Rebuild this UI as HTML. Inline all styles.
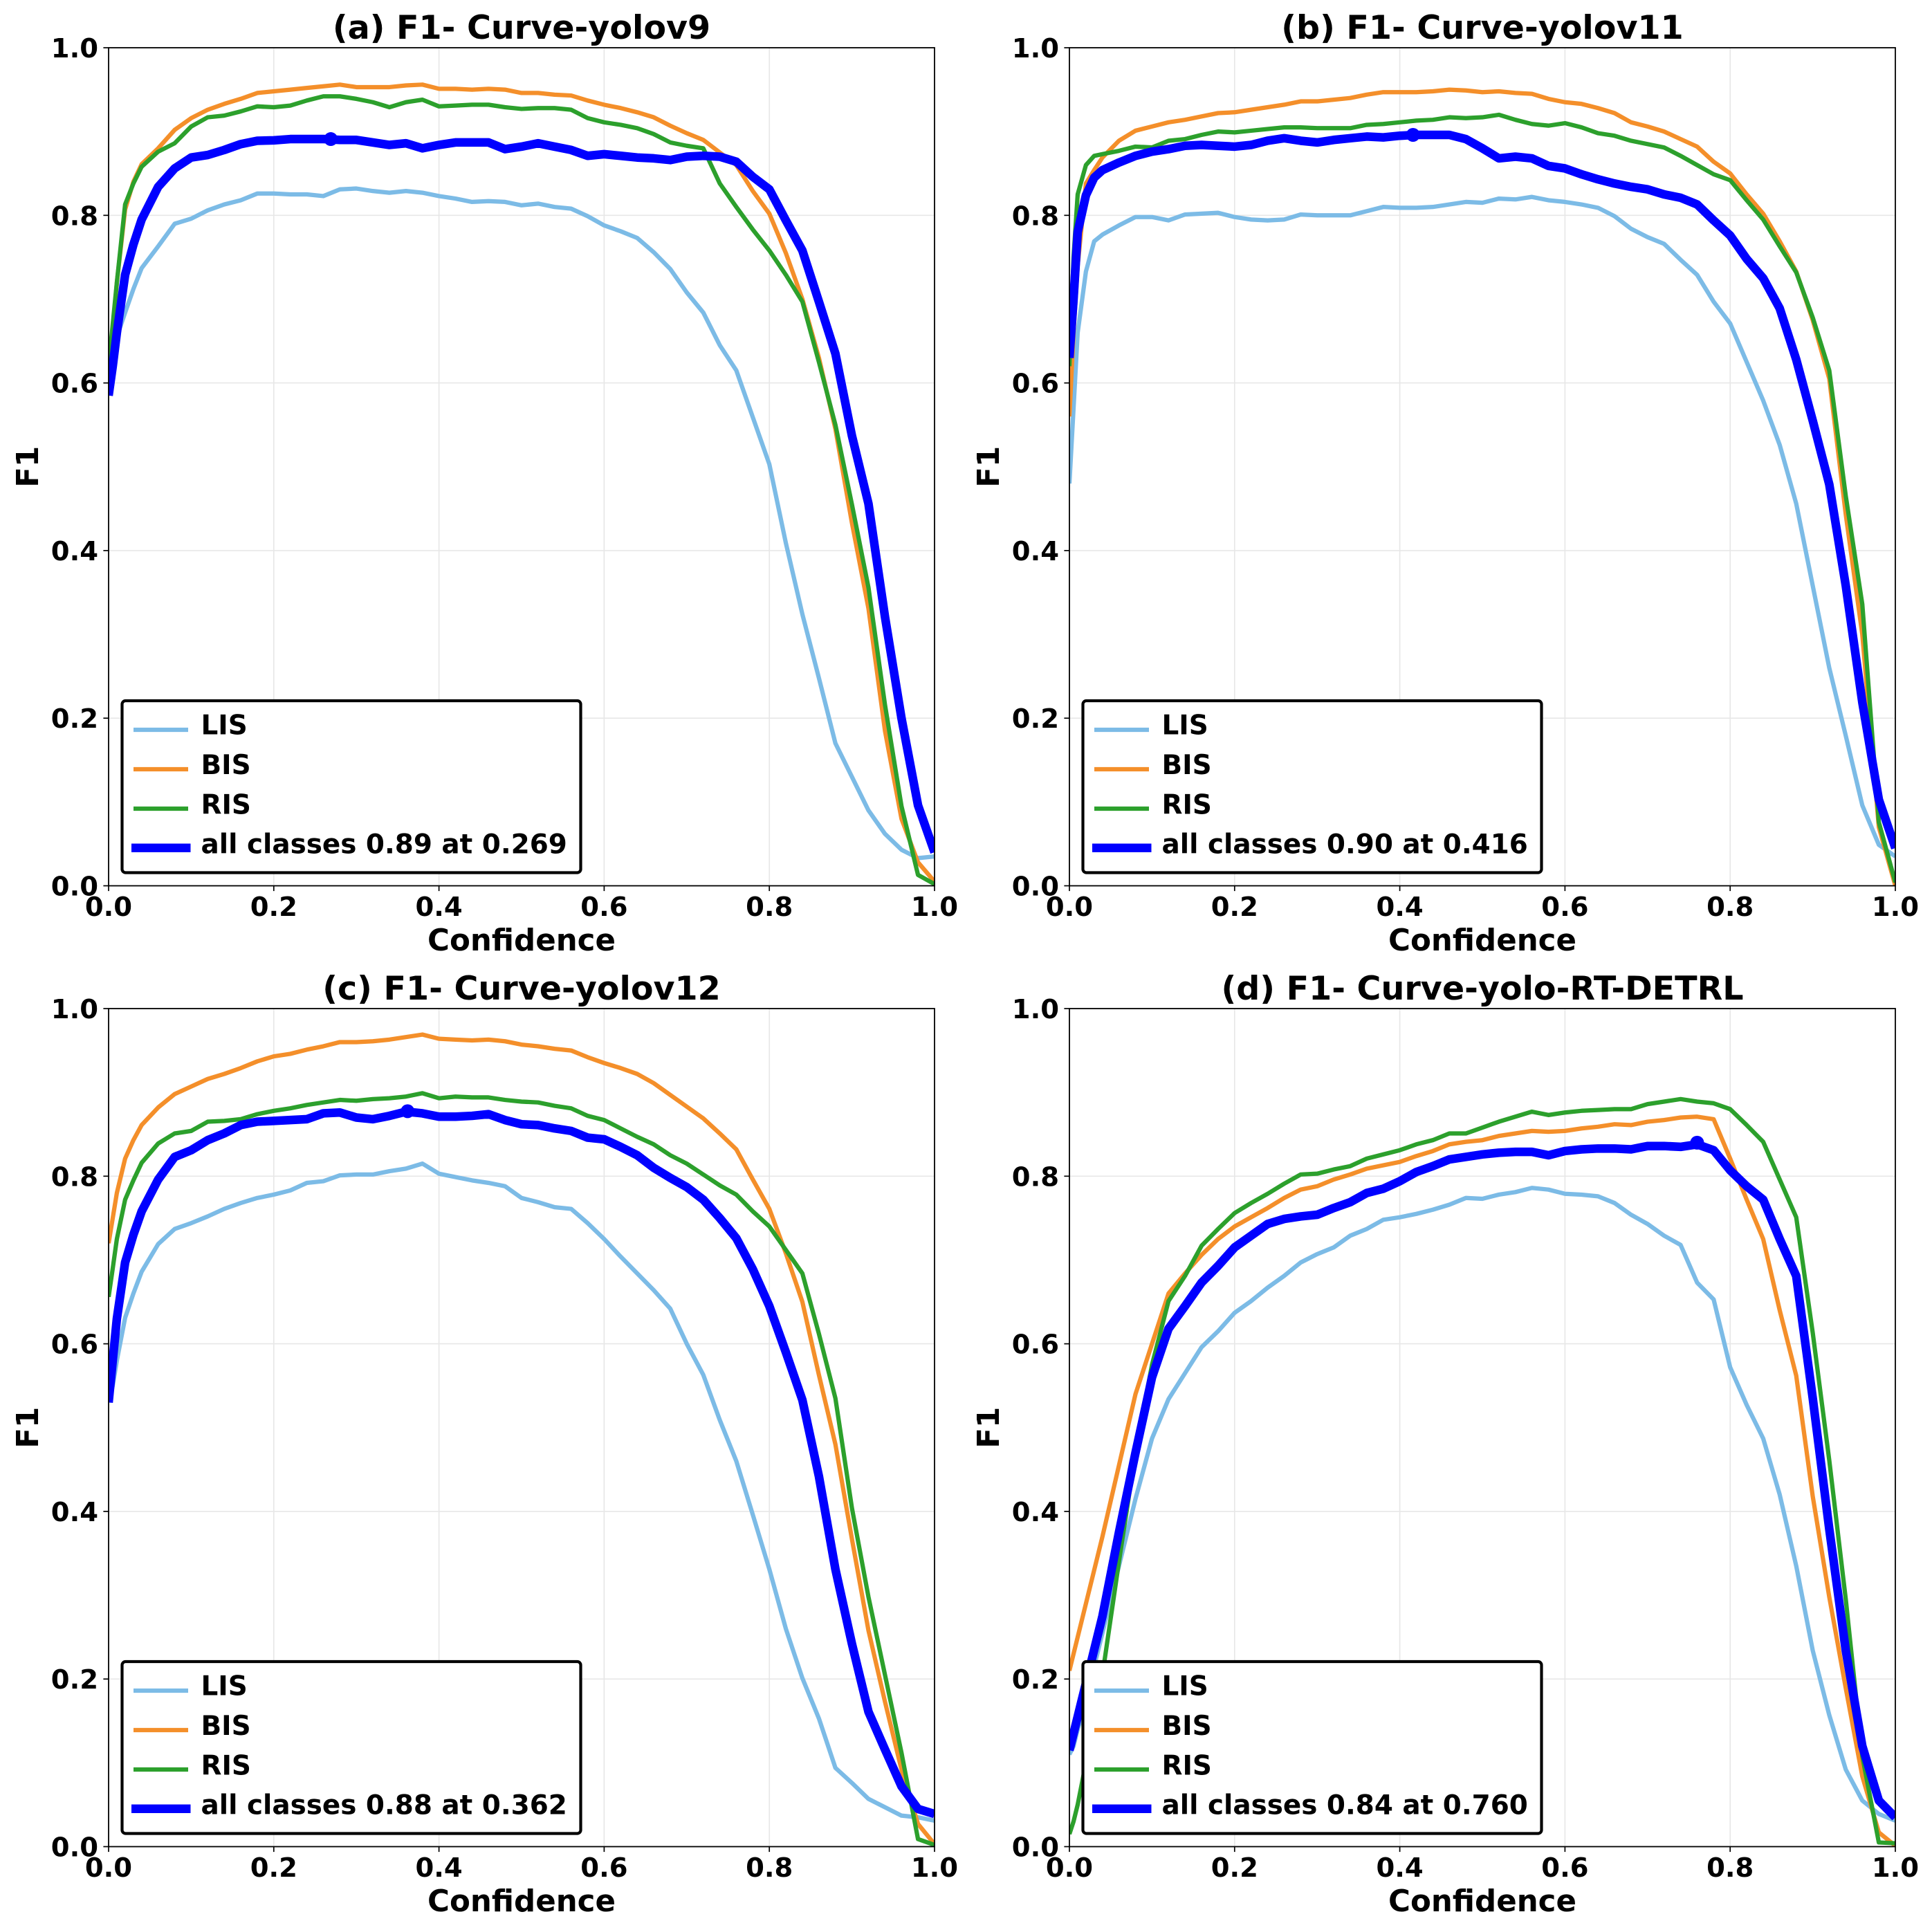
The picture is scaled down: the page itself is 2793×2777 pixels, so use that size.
<!DOCTYPE html>
<html lang="en">
<head>
<meta charset="utf-8">
<title>F1 Curves</title>
<style>
html,body{margin:0;padding:0;background:#fff;}
svg{display:block;}
text{font-family:"DejaVu Sans","Liberation Sans",sans-serif;font-weight:bold;fill:#000;}
</style>
</head>
<body>
<svg id="figure" xmlns="http://www.w3.org/2000/svg" width="2793" height="2777" viewBox="0 0 2793 2777"></svg>
<script>
const conf = [0,.005,.01,.02,.03,.04,
 .06,.08,.10,.12,.14,.16,.18,.20,
 .22,.24,.26,.28,.30,.32,.34,.36,.38,.40,
 .42,.44,.46,.48,.50,.52,.54,.56,.58,.60,
 .62,.64,.66,.68,.70,.72,.74,.76,.78,.80,
 .82,.84,.86,.88,.90,.92,.94,.96,.98,1.0];
const xTickValues = [0,.2,.4,.6,.8,1];
const yTickValues = [0,.2,.4,.6,.8,1];
const xTickLabels = ['0.0','0.2','0.4','0.6','0.8','1.0'];
const yTickLabels = ['0.0','0.2','0.4','0.6','0.8','1.0'];
const seriesNames = ['LIS','BIS','RIS'];
const panelTitles = ['(a) F1- Curve-yolov9','(b) F1- Curve-yolov11','(c) F1- Curve-yolov12','(d) F1- Curve-yolo-RT-DETRL'];
const allLabels = ['all classes 0.89 at 0.269','all classes 0.90 at 0.416','all classes 0.88 at 0.362','all classes 0.84 at 0.760'];
const bestConf = [.269,.416,.362,.760];
const bestF1 = [.891,.896,.8775,.84];

const a_LIS = [.60,.625,.655,.684,.712,.737,
 .763,.790,.796,.806,.813,.818,.826,.826,
 .825,.825,.823,.831,.832,.829,.827,.829,.827,.823,
 .820,.816,.817,.816,.812,.814,.810,.808,.799,.788,
 .781,.773,.756,.736,.708,.684,.645,.615,.559,.503,
 .409,.324,.248,.170,.130,.090,.062,.043,.033,.035];
const a_BIS = [.60,.66,.72,.807,.84,.861,
 .880,.902,.916,.926,.933,.939,.946,.948,
 .950,.952,.954,.956,.953,.953,.953,.955,.956,.951,
 .951,.950,.951,.950,.946,.946,.944,.943,.937,.932,
 .928,.923,.917,.907,.898,.890,.875,.860,.829,.802,
 .755,.700,.630,.545,.433,.331,.185,.080,.028,.005];
const a_RIS = [.62,.67,.72,.813,.838,.858,
 .876,.886,.906,.917,.919,.924,.930,.929,
 .931,.937,.942,.942,.939,.935,.929,.935,.938,.930,
 .931,.932,.932,.929,.927,.928,.928,.926,.916,.911,
 .908,.904,.897,.887,.883,.880,.838,.810,.783,.758,
 .729,.697,.625,.550,.455,.356,.216,.095,.013,.002];
const a_ALL = [.585,.62,.66,.729,.765,.795,
 .834,.856,.869,.872,.878,.885,.889,.8895,
 .891,.891,.891,.890,.890,.887,.884,.886,.880,.884,
 .887,.887,.887,.879,.882,.886,.882,.878,.871,.873,
 .871,.869,.868,.866,.870,.871,.870,.864,.846,.831,
 .794,.758,.697,.635,.537,.456,.321,.200,.096,.040];

const b_LIS = [.48,.57,.66,.733,.769,.777,
 .788,.798,.798,.794,.801,.802,.803,.798,
 .795,.794,.795,.801,.800,.800,.800,.805,.810,.809,
 .809,.810,.813,.816,.815,.820,.819,.822,.818,.816,
 .813,.809,.799,.784,.774,.766,.747,.729,.697,.671,
 .625,.579,.526,.456,.358,.260,.179,.096,.049,.035];
const b_BIS = [.56,.66,.74,.838,.854,.869,
 .889,.901,.906,.911,.914,.918,.922,.923,
 .926,.929,.932,.936,.936,.938,.940,.944,.947,.947,
 .947,.948,.950,.949,.947,.948,.946,.945,.939,.935,
 .933,.928,.922,.911,.906,.900,.891,.882,.864,.850,
 .825,.802,.769,.733,.675,.605,.443,.300,.070,.000];
const b_RIS = [.62,.75,.825,.860,.871,.873,
 .877,.882,.881,.889,.891,.896,.900,.899,
 .901,.903,.905,.905,.904,.904,.904,.908,.909,.911,
 .913,.914,.917,.916,.917,.920,.914,.909,.907,.910,
 .905,.898,.895,.889,.885,.881,.871,.860,.849,.842,
 .818,.795,.763,.732,.678,.615,.465,.336,.076,.004];
const b_ALL = [.63,.70,.78,.824,.845,.854,
 .863,.871,.876,.879,.883,.884,.883,.882,
 .884,.889,.892,.889,.887,.890,.892,.894,.893,.895,
 .896,.896,.896,.891,.880,.868,.870,.868,.859,.856,
 .849,.843,.838,.834,.831,.825,.821,.813,.794,.776,
 .748,.725,.689,.628,.555,.479,.358,.219,.103,.045];

const c_LIS = [.53,.55,.58,.631,.66,.686,
 .719,.737,.744,.752,.761,.768,.774,.778,
 .783,.792,.794,.801,.802,.802,.806,.809,.815,.803,
 .799,.795,.792,.788,.774,.769,.763,.761,.744,.725,
 .704,.684,.664,.642,.600,.563,.509,.460,.396,.331,
 .260,.201,.153,.094,.076,.057,.047,.037,.035,.031];
const c_BIS = [.72,.75,.78,.821,.843,.861,
 .882,.898,.907,.916,.922,.929,.937,.943,
 .946,.951,.955,.960,.960,.961,.963,.966,.969,.964,
 .963,.962,.963,.961,.957,.955,.952,.950,.942,.935,
 .929,.922,.911,.897,.883,.869,.851,.832,.796,.761,
 .708,.650,.563,.480,.367,.258,.173,.092,.027,.003];
const c_RIS = [.656,.69,.725,.772,.795,.816,
 .839,.851,.854,.865,.866,.868,.874,.878,
 .881,.885,.888,.891,.890,.892,.893,.895,.899,.893,
 .895,.894,.894,.891,.889,.888,.884,.881,.872,.867,
 .857,.847,.838,.825,.815,.802,.789,.778,.758,.740,
 .712,.684,.612,.535,.404,.298,.205,.112,.009,.002];
const c_ALL = [.53,.58,.63,.697,.73,.758,
 .796,.823,.831,.843,.851,.861,.865,.866,
 .867,.868,.875,.876,.870,.868,.872,.877,.875,.871,
 .871,.872,.874,.867,.862,.861,.857,.854,.846,.844,
 .835,.825,.810,.798,.787,.772,.750,.726,.689,.645,
 .590,.533,.442,.331,.242,.161,.116,.072,.045,.039];

const d_LIS = [.11,.12,.14,.17,.215,.255,
 .335,.415,.487,.534,.565,.596,.615,.637,
 .651,.667,.681,.697,.707,.715,.729,.737,.748,.751,
 .755,.760,.766,.774,.773,.778,.781,.786,.784,.779,
 .778,.776,.768,.754,.743,.729,.718,.673,.653,.572,
 .527,.487,.420,.335,.234,.157,.092,.055,.039,.031];
const d_BIS = [.21,.23,.25,.29,.33,.37,
 .455,.54,.60,.660,.684,.706,.725,.740,
 .751,.762,.774,.784,.788,.796,.802,.809,.813,.817,
 .824,.830,.838,.841,.843,.848,.851,.854,.853,.854,
 .857,.859,.862,.861,.865,.867,.870,.871,.868,.821,
 .772,.725,.640,.562,.418,.298,.189,.084,.017,.001];
const d_RIS = [.015,.03,.05,.10,.155,.205,
 .34,.47,.575,.651,.681,.717,.737,.756,
 .768,.779,.791,.802,.803,.808,.812,.821,.826,.831,
 .838,.843,.851,.851,.858,.865,.871,.877,.873,.876,
 .878,.879,.880,.880,.886,.889,.892,.889,.887,.880,
 .861,.841,.796,.751,.613,.461,.295,.108,.005,.004];
const d_ALL = [.115,.135,.155,.195,.235,.275,
 .375,.47,.56,.618,.645,.673,.693,.715,
 .729,.743,.749,.752,.754,.762,.769,.780,.785,.794,
 .805,.812,.820,.823,.826,.828,.829,.829,.825,.830,
 .832,.833,.833,.832,.836,.836,.835,.838,.831,.807,
 .788,.772,.725,.681,.535,.379,.234,.120,.055,.035];

const panelSeries = [
 [a_LIS,a_BIS,a_RIS,a_ALL],
 [b_LIS,b_BIS,b_RIS,b_ALL],
 [c_LIS,c_BIS,c_RIS,c_ALL],
 [d_LIS,d_BIS,d_RIS,d_ALL]
];

const NS = 'http://www.w3.org/2000/svg';
const fig = document.getElementById('figure');
const COLORS = ['#7cbbe6','#f48f2a','#2ca02c','#0000ff'];
const WIDTHS = [6.25,6.25,6.25,12.5];
const ORIGINS = [[157,69],[1546,69],[157,1458],[1546,1458]];
const AX_W = 1194, AX_H = 1211.5;
const TICK_FS = 38.5, LABEL_FS = 43.5, TITLE_FS = 47.6, LEGEND_FS = 38.9;

function mk(parent, tag, attrs, txt){
  const e = document.createElementNS(NS, tag);
  for (const k in attrs) e.setAttribute(k, attrs[k]);
  if (txt !== undefined) e.textContent = txt;
  parent.appendChild(e);
  return e;
}

ORIGINS.forEach(function(o, p){
  const L = o[0], T = o[1];
  const sx = function(v){ return L + v * AX_W; };
  const sy = function(v){ return T + AX_H - v * AX_H; };
  const g = mk(fig, 'g', {});
  
  

  const defs = mk(g, 'defs', {});
  const cp = mk(defs, 'clipPath', {id:'clip' + p});
  mk(cp, 'rect', {x:L, y:T, width:AX_W, height:AX_H});

  xTickValues.forEach(function(v){
    const gl = mk(g, 'line', {x1:sx(v), x2:sx(v), y1:T, y2:T + AX_H, stroke:'#e7e7e7', 'stroke-width':1.67});
    
    
  });
  yTickValues.forEach(function(v){
    const gl = mk(g, 'line', {x1:L, x2:L + AX_W, y1:sy(v), y2:sy(v), stroke:'#e7e7e7', 'stroke-width':1.67});
    
    
  });

  const plot = mk(g, 'g', {'clip-path':'url(#clip' + p + ')'});
  panelSeries[p].forEach(function(vals, s){
    const pts = vals.map(function(v, i){ return sx(conf[i]).toFixed(2) + ',' + sy(v).toFixed(2); }).join(' ');
    const line = mk(plot, 'polyline', {points:pts, fill:'none', stroke:COLORS[s], 'stroke-width':WIDTHS[s], 'stroke-linejoin':'round'});
    
    
  });
  const marker = mk(plot, 'circle', {cx:sx(bestConf[p]), cy:sy(bestF1[p]), r:10, fill:'#0000ff'});
  
  

  const frame = mk(g, 'rect', {x:L, y:T, width:AX_W, height:AX_H, fill:'none', stroke:'#000', 'stroke-width':1.8});
  
  

  xTickValues.forEach(function(v, i){
    const tk = mk(g, 'line', {x1:sx(v), x2:sx(v), y1:T + AX_H, y2:T + AX_H + 7.6, stroke:'#000', 'stroke-width':1.7});
    
    
    const tl = mk(g, 'text', {x:sx(v), y:T + AX_H + 43.5, 'text-anchor':'middle', 'font-size':TICK_FS}, xTickLabels[i]);
    
    
  });
  yTickValues.forEach(function(v, i){
    const tk = mk(g, 'line', {x1:L - 7.6, x2:L, y1:sy(v), y2:sy(v), stroke:'#000', 'stroke-width':1.7});
    
    
    const tl = mk(g, 'text', {x:L - 15, y:sy(v) + 14, 'text-anchor':'end', 'font-size':TICK_FS}, yTickLabels[i]);
    
    
  });

  const title = mk(g, 'text', {x:L + AX_W / 2, y:T - 13, 'text-anchor':'middle', 'font-size':TITLE_FS}, panelTitles[p]);
  
  

  const xlab = mk(g, 'text', {x:L + AX_W / 2, y:T + AX_H + 93.5, 'text-anchor':'middle', 'font-size':LABEL_FS}, 'Confidence');
  
  

  const ylab = mk(g, 'text', {x:0, y:0, 'text-anchor':'middle', 'font-size':LABEL_FS, transform:'translate(' + (L - 102) + ' ' + (T + AX_H / 2) + ') rotate(-90)'}, 'F1');
  
  

  const leg = mk(g, 'g', {});
  
  
  const box = mk(leg, 'rect', {x:L + 19.5, y:T + 944, width:663, height:248.5, rx:5, ry:5, fill:'#fff', stroke:'#000', 'stroke-width':4.2});
  
  
  const handleY = [986,1043,1100,1156.7];
  const textY = [992.7,1050,1107.7,1164.3];
  const labels = seriesNames.concat([allLabels[p]]);
  labels.forEach(function(lb, s){
    const x1 = s < 3 ? L + 36 : L + 33;
    const x2 = s < 3 ? L + 115 : L + 118.5;
    const h = mk(leg, 'line', {x1:x1, x2:x2, y1:T + handleY[s], y2:T + handleY[s], stroke:COLORS[s], 'stroke-width':WIDTHS[s]});
    
    
    const t = mk(leg, 'text', {x:L + 133.5, y:T + textY[s], 'font-size':LEGEND_FS}, lb);
    
    
  });
});
</script>
</body>
</html>
